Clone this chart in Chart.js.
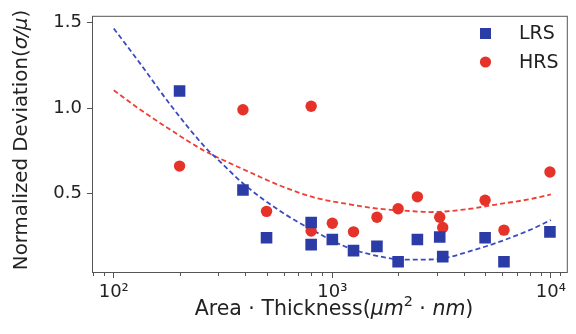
<!DOCTYPE html>
<html>
<head>
<meta charset="utf-8">
<script src="https://cdn.jsdelivr.net/npm/chart.js@4"></script>
<style>
html, body { margin: 0; padding: 0; background: #fff; }
#wrap { width: 576px; height: 334px; }
</style>
</head>
<body>
<div id="wrap"><canvas id="grafico"></canvas></div>
<script>
// valores
const lrsX = [200, 390, 500, 800, 800, 1000, 1250, 1600, 2000, 2450, 3100, 3200, 5000, 6100, 9900];
const lrsY = [1.10, 0.52, 0.24, 0.33, 0.20, 0.23, 0.165, 0.19, 0.10, 0.23, 0.245, 0.13, 0.24, 0.10, 0.275];
const hrsX = [200, 390, 500, 800, 800, 1000, 1250, 1600, 2000, 2450, 3100, 3200, 5000, 6100, 9900];
const hrsY = [0.66, 0.99, 0.395, 1.01, 0.28, 0.325, 0.275, 0.36, 0.41, 0.48, 0.36, 0.30, 0.46, 0.285, 0.625];

// curvas de ajuste (discontinuas)
const lrsFitX = [100, 129, 183, 259, 303, 393, 586, 830, 1175, 1663, 2200, 2800, 3340, 3980, 5620, 7980, 10000];
const lrsFitY = [1.466, 1.278, 1.013, 0.777, 0.692, 0.555, 0.391, 0.278, 0.183, 0.13, 0.112, 0.113, 0.123, 0.15, 0.21, 0.285, 0.344];
const hrsFitX = [100, 129, 183, 259, 297, 414, 586, 830, 1175, 1663, 2200, 2805, 3980, 5620, 7980, 10000];
const hrsFitY = [1.104, 1.0, 0.87, 0.75, 0.712, 0.627, 0.542, 0.476, 0.438, 0.409, 0.398, 0.391, 0.405, 0.435, 0.466, 0.494];

const xTicks = [80, 90, 100, 200, 300, 400, 500, 600, 700, 800, 900, 1000,
    2000, 3000, 4000, 5000, 6000, 7000, 8000, 9000, 10000, 11000];
const xLabels = { 100: '10\u00B2', 1000: '10\u00B3', 10000: '10\u2074' };
const yTicks = [0.5, 1.0, 1.5];

const AZUL = '#2b3ca6';
const ROJO = '#e5332a';
const FUENTE = '"DejaVu Sans", sans-serif';

function puntos(xs, ys) {
    return xs.map((x, i) => ({ x: x, y: ys[i] }));
}

// texto con partes normales, cursivas y superindice
function textoRico(ctx, partes, size) {
    const fuente = p => (p[1] === 'i' ? 'italic ' : '') + (p[1] === 's' ? size * 0.7 : size) + 'px ' + FUENTE;
    let total = 0;
    partes.forEach(p => { ctx.font = fuente(p); total += ctx.measureText(p[0]).width; });
    let x = -total / 2;
    partes.forEach(p => {
        ctx.font = fuente(p);
        ctx.fillText(p[0], x, p[1] === 's' ? -size * 0.42 : 0);
        x += ctx.measureText(p[0]).width;
    });
}

const extras = {
    id: 'extras',
    afterDraw(chart) {
        const ctx = chart.ctx;
        const a = chart.chartArea;
        const sx = chart.scales.x;
        ctx.save();
        // marco
        ctx.strokeStyle = '#555';
        ctx.lineWidth = 1;
        ctx.strokeRect(a.left + 0.5, a.top + 0.5, a.right - a.left - 1, a.bottom - a.top - 1);
        // ticks menores
        xTicks.forEach(v => {
            if (xLabels[v]) return;
            const px = Math.round(sx.getPixelForValue(v)) + 0.5;
            ctx.beginPath();
            ctx.moveTo(px, a.bottom);
            ctx.lineTo(px, a.bottom + 3);
            ctx.stroke();
        });
        // leyenda
        ctx.fillStyle = AZUL;
        ctx.fillRect(480, 28, 11, 11);
        ctx.fillStyle = ROJO;
        ctx.beginPath();
        ctx.arc(485.5, 62, 5.6, 0, Math.PI * 2);
        ctx.fill();
        ctx.fillStyle = '#222';
        ctx.font = '19px ' + FUENTE;
        ctx.textBaseline = 'middle';
        ctx.fillText('LRS', 519, 34);
        ctx.fillText('HRS', 519, 63);
        // titulos de ejes
        ctx.textBaseline = 'alphabetic';
        ctx.save();
        ctx.translate(334, 315);
        textoRico(ctx, [['Area \u00B7 Thickness(', 'n'], ['\u03BCm', 'i'], ['2', 's'], [' \u00B7 ', 'n'], ['nm', 'i'], [')', 'n']], 20.5);
        ctx.restore();
        ctx.save();
        ctx.translate(27, 140);
        ctx.rotate(-Math.PI / 2);
        textoRico(ctx, [['Normalized Deviation(', 'n'], ['\u03C3/\u03BC', 'i'], [')', 'n']], 19.8);
        ctx.restore();
        ctx.restore();
    }
};

const ctx = document.getElementById('grafico');

const data = {
    datasets: [
        {
            label: 'LRS',
            data: puntos(lrsX, lrsY),
            pointStyle: 'rect',
            pointRadius: 8.2,
            backgroundColor: AZUL,
            borderColor: AZUL,
            borderWidth: 0,
            showLine: false
        },
        {
            label: 'HRS',
            data: puntos(hrsX, hrsY),
            pointStyle: 'circle',
            pointRadius: 5.7,
            backgroundColor: ROJO,
            borderColor: ROJO,
            borderWidth: 0,
            showLine: false
        },
        {
            label: 'LRS fit',
            data: puntos(lrsFitX, lrsFitY),
            showLine: true,
            pointRadius: 0,
            borderColor: '#3a4cc0',
            borderWidth: 1.8,
            borderDash: [5, 3],
            cubicInterpolationMode: 'monotone'
        },
        {
            label: 'HRS fit',
            data: puntos(hrsFitX, hrsFitY),
            showLine: true,
            pointRadius: 0,
            borderColor: '#ee3f35',
            borderWidth: 1.8,
            borderDash: [5, 3],
            cubicInterpolationMode: 'monotone'
        }
    ]
};

const config = {
    type: 'scatter',
    data: data,
    options: {
        responsive: true,
        maintainAspectRatio: false,
        animation: false,
        layout: { padding: { left: 0, right: 4, top: 7, bottom: 0 } },
        plugins: {
            legend: { display: false },
            tooltip: { enabled: false }
        },
        scales: {
            x: {
                type: 'logarithmic',
                min: 79.5,
                max: 11950,
                afterBuildTicks: scale => { scale.ticks = xTicks.map(v => ({ value: v, major: !!xLabels[v] })); },
                afterFit: scale => { scale.height = 61; },
                ticks: {
                    autoSkip: false,
                    maxRotation: 0,
                    padding: 4,
                    color: '#222',
                    font: { family: FUENTE, size: 18 },
                    callback: value => xLabels[value] || ''
                },
                grid: {
                    drawOnChartArea: false,
                    tickLength: 5,
                    tickColor: c => (c.tick && xLabels[c.tick.value]) ? '#555' : 'rgba(0,0,0,0)'
                },
                border: { display: false }
            },
            y: {
                min: 0.034,
                max: 1.54,
                afterBuildTicks: scale => { scale.ticks = yTicks.map(v => ({ value: v })); },
                afterFit: scale => { scale.width = 92; },
                ticks: {
                    padding: 5,
                    color: '#222',
                    font: { family: FUENTE, size: 18 },
                    callback: value => Number(value).toFixed(1)
                },
                grid: {
                    drawOnChartArea: false,
                    tickLength: 5,
                    tickColor: '#555'
                },
                border: { display: false }
            }
        }
    },
    plugins: [extras]
};

const miGrafico = new Chart(ctx, config);
</script>
</body>
</html>
